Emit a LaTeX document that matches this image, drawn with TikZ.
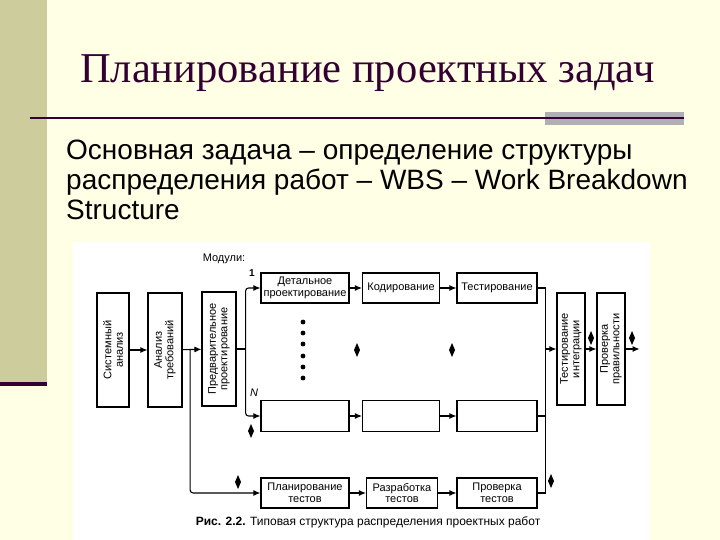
\documentclass[tikz,border=0pt]{standalone}
\usepackage{fontspec}
\setmainfont{Liberation Serif}
\setsansfont{Liberation Sans}
\usetikzlibrary{arrows.meta, calc}
\definecolor{fonyel}{HTML}{FFFFE5}
\definecolor{polosa}{HTML}{CCCC9C}
\definecolor{tyomn}{HTML}{330033}
\definecolor{seryj}{HTML}{B0B0B4}
\tikzset{
  blok/.style={rectangle, draw=black, line width=1.1pt, fill=white, align=center, inner sep=0.5pt, font=\sffamily\fontsize{11}{11.5}\selectfont},
  vblok/.style={blok, rotate=90, minimum width=114pt},
  hblok/.style={blok, minimum height=30pt},
  strel/.style={line width=1.1pt, -{Latex[length=7pt, width=6pt]}},
  liniya/.style={line width=1.1pt},
  metka/.style={font=\sffamily\fontsize{11}{12}\selectfont, inner sep=1pt}
}
\begin{document}
\begin{tikzpicture}[x=1pt, y=-1pt]
        \useasboundingbox (0,0) rectangle (720,540);

        % Фон слайда
        \fill[fonyel] (0,0) rectangle (720,540);
        \fill[polosa] (0,0) rectangle (47,382);
        \fill[tyomn] (0,382) rectangle (47,386);
        \fill[seryj] (545,112) rectangle (684,125);
        \draw[tyomn, line width=1.2pt] (30,118) -- (684,118);

        % Заголовок и текст
        \node[anchor=base west, inner sep=0pt, text=tyomn, font=\fontsize{42.5}{46}\selectfont] (titul) at (80,83) {Планирование проектных задач};
        \node[anchor=north west, inner sep=0pt, align=left, font=\sffamily\fontsize{28}{30}\selectfont] (tekst) at (66,140)
            {Основная задача -- определение структуры\\распределения работ -- WBS -- Work Breakdown\\Structure};

        % ==========================================
        % Рисунок
        % ==========================================
        \fill[white] (73,242) rectangle (650,540);

        % Вертикальные блоки
        \node[vblok, minimum height=32pt] (sysan) at (113,350) {Системный\\анализ};
        \node[vblok, minimum height=34pt] (reqan) at (165,350) {Анализ\\требований};
        \node[vblok, minimum height=34pt] (prelim) at (219,349) {Предварительное\\проектирование};
        \node[vblok, minimum height=28pt, minimum width=112pt] (integ) at (571,349) {Тестирование\\интеграции};
        \node[vblok, minimum height=28pt, minimum width=112pt] (verif) at (611,349) {Проверка\\правильности};

        % Модуль 1
        \node[hblok, minimum width=88pt] (det1) at (305,288) {Детальное\\проектирование};
        \node[hblok, minimum width=77pt] (cod1) at (401,288) {Кодирование};
        \node[hblok, minimum width=80pt] (tst1) at (497,288) {Тестирование};

        % Модуль N
        \node[hblok, minimum width=88pt, minimum height=31pt] (detN) at (305,416) {};
        \node[hblok, minimum width=77pt, minimum height=31pt] (codN) at (401,416) {};
        \node[hblok, minimum width=80pt, minimum height=31pt] (tstN) at (497,416) {};

        % Тесты
        \node[hblok, minimum width=88pt] (plantst) at (305,493) {Планирование\\тестов};
        \node[hblok, minimum width=71pt] (devtst) at (402,493) {Разработка\\тестов};
        \node[hblok, minimum width=80pt] (chktst) at (497,493) {Проверка\\тестов};

        % Подписи
        \node[metka] (modl) at (224,259) {Модули:};
        \node[metka, font=\sffamily\bfseries\fontsize{10}{10}\selectfont] (one) at (252,273) {1};
        \node[metka, font=\sffamily\itshape\fontsize{11}{11}\selectfont] (enn) at (254,393) {N};
        \node[metka, font=\sffamily\fontsize{12}{12}\selectfont] (podp) at (368,522) {\textbf{Рис. 2.2.} Типовая структура распределения проектных работ};

        % Связи
        \draw[strel] (sysan) -- (reqan);
        \draw[strel] (reqan) -- (prelim);
        \draw[liniya] (prelim.south) -- ++(9,0) coordinate (razv);
        \draw[strel, rounded corners=3pt] (razv) |- (det1.west);
        \draw[strel, rounded corners=3pt] (razv) |- (detN.west);
        \path (reqan.south) -- (prelim.north) coordinate[pos=0.4] (tv);
        \draw[strel, rounded corners=3pt] (tv) |- (plantst.west);

        \foreach \a/\b in {det1/cod1, cod1/tst1, detN/codN, codN/tstN, plantst/devtst, devtst/chktst}
            \draw[strel] (\a) -- (\b);

        \draw[liniya] (tst1.east) -- ++(8,0) coordinate (sbor) |- (chktst.east);
        \draw[liniya] (tstN.east) -- (tstN.east -| sbor);
        \draw[strel] (integ.north -| sbor) -- (integ.north);
        \draw[strel] (integ) -- (verif);
        \draw[strel] (verif.south) -- ++(14,0) coordinate (vyh);

        % Точки и ромбы
        \foreach \y in {322,333,344,356,367,378}
            \fill (303,\y) circle (2.4);
        \foreach \x/\y in {357/350, 452/350, 251/431, 238/482, 551/481, 591/338, 632/338}
            \fill (\x,\y) ++(0,-7) -- ++(3,7) -- ++(-3,7) -- ++(-3,-7) -- cycle;

\end{tikzpicture}
\end{document}
